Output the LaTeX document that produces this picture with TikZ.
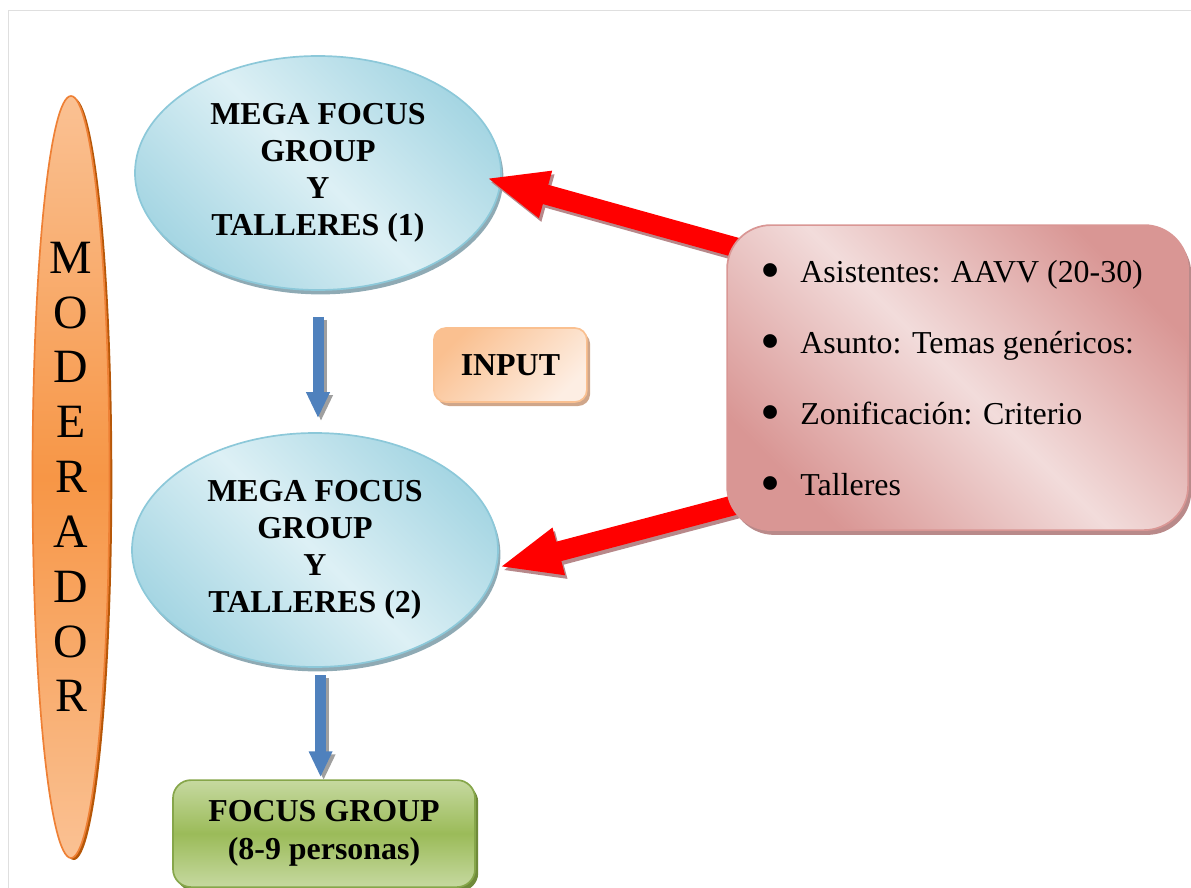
\documentclass[tikz,border=0pt]{standalone}
\usepackage{fontspec}
\setmainfont{Liberation Serif}
\usepackage{graphicx}
\usepackage{tikz}
\usetikzlibrary{arrows.meta,shapes.geometric,shadows}

\definecolor{bluL}{HTML}{DDF0F5}
\definecolor{bluD}{HTML}{A6D6E3}
\definecolor{bluB}{HTML}{8CC8D9}
\definecolor{bluS}{HTML}{8FAAB4}
\definecolor{orL}{HTML}{FAC193}
\definecolor{orD}{HTML}{F79646}
\definecolor{orB}{HTML}{EE8035}
\definecolor{orS}{HTML}{B65708}
\definecolor{inA}{HTML}{FAC090}
\definecolor{inB}{HTML}{FDEEE3}
\definecolor{inS}{HTML}{CFA68A}
\definecolor{pkL}{HTML}{F2DCDB}
\definecolor{pkD}{HTML}{D99694}
\definecolor{pkS}{HTML}{B98A8A}
\definecolor{grL}{HTML}{C6D9A0}
\definecolor{grD}{HTML}{9BBB59}
\definecolor{grB}{HTML}{86A64A}
\definecolor{grS}{HTML}{6F8A3A}
\definecolor{arB}{HTML}{4F81BD}
\definecolor{arR}{HTML}{FF0000}
\definecolor{arS}{HTML}{B7888A}

\newcommand{\vineta}{\smash{\raisebox{-0.22em}{\scalebox{1.8}{\textbullet}}}\hspace{0.5cm}}

\tikzset{
	moder/.style={ellipse, draw=orB, line width=1.2pt, top color=orL, bottom color=orL, middle color=orD,
		minimum width=1.925cm, minimum height=19.05cm, inner sep=0pt, align=center,
		font=\fontsize{34}{39}\selectfont,
		drop shadow={shadow xshift=0.07cm, shadow yshift=-0.05cm, fill=orS, opacity=1}},
	megaop/.style={ellipse, draw=bluB, line width=1.2pt, top color=bluD, bottom color=bluD, middle color=bluL,
		shading angle=-45, minimum width=9.15cm, minimum height=5.85cm, inner sep=0pt, align=center,
		font=\fontsize{22.7}{26.3}\selectfont\bfseries,
		drop shadow={shadow xshift=0.06cm, shadow yshift=-0.11cm, fill=bluS, opacity=1}},
	inbox/.style={rectangle, rounded corners=0.3cm, draw=inA, line width=1.2pt, top color=inA, bottom color=inB,
		shading angle=45, minimum width=3.825cm, minimum height=1.85cm, inner sep=0pt,
		font=\fontsize{22.7}{26.3}\selectfont\bfseries,
		drop shadow={shadow xshift=0.08cm, shadow yshift=-0.1cm, fill=inS, opacity=1}},
	focus/.style={rectangle, rounded corners=0.45cm, draw=grB, line width=1.2pt, top color=grL, bottom color=grL,
		middle color=grD, minimum width=7.55cm, minimum height=2.675cm, inner sep=0pt, align=center,
		font=\fontsize{22.7}{27}\selectfont\bfseries,
		drop shadow={shadow xshift=0.08cm, shadow yshift=-0.1cm, fill=grS, opacity=1}},
	temas/.style={rectangle, rounded corners=1.1cm, draw=pkD, line width=1.2pt, top color=pkD, bottom color=pkD,
		middle color=pkL, shading angle=-45, minimum width=11.525cm, minimum height=7.625cm, inner sep=0pt,
		align=left, font=\fontsize{22.7}{50.5}\selectfont,
		drop shadow={shadow xshift=0.08cm, shadow yshift=-0.12cm, fill=pkS, opacity=1}},
	flecha/.style={line width=0.275cm, arB, -{Triangle[width=0.55cm, length=0.65cm]}},
	flechasombra/.style={flecha, gray!75, transform canvas={shift={(0.075cm,-0.075cm)}}},
	flecharoja/.style={line width=0.5cm, arR, -{Triangle[width=1.1cm, length=1.55cm]}},
	flecharojasombra/.style={flecharoja, arS, transform canvas={shift={(0.06cm,-0.09cm)}}}
}

\begin{document}
\begin{tikzpicture}[scale=1]
		\useasboundingbox (0, 0) rectangle (29.775, -22.2);
		\draw[gray!25, line width=0.6pt] (0.2, -22.2) -- (0.2, -0.25) -- (29.775, -0.25);

		\node[moder] (moder) at (1.775, -11.925) {M\\O\\D\\E\\R\\A\\D\\O\\R};
		\node[megaop] (op1) at (7.95, -4.325) {MEGA FOCUS\\GROUP\\Y\\TALLERES (1)};
		\node[megaop] (op2) at (7.875, -13.75) {MEGA FOCUS\\GROUP\\Y\\TALLERES (2)};
		\node[inbox] (input) at (12.76, -9.125) {INPUT};
		\node[focus] (focus) at (8.1, -20.84) {FOCUS GROUP\\(8-9 personas)};

		\draw[flechasombra, shorten <=0.65cm, shorten >=0.35cm] (op1.south) -- (op1.south |- op2.north);
		\draw[flecha, shorten <=0.65cm, shorten >=0.35cm] (op1.south) -- (op1.south |- op2.north);
		\draw[flechasombra, shorten <=0.18cm, shorten >=0.05cm] ([xshift=0.14cm]op2.south) -- ([xshift=0.14cm]op2.south |- focus.north);
		\draw[flecha, shorten <=0.18cm, shorten >=0.05cm] ([xshift=0.14cm]op2.south) -- ([xshift=0.14cm]op2.south |- focus.north);

		\coordinate (in1) at (18.625, -6.25);
		\coordinate (in2) at (18.65, -12.55);
		\draw[flecharojasombra] (in1) -- ([shift={(-0.4, -0.12)}]op1.east);
		\draw[flecharoja] (in1) -- ([shift={(-0.4, -0.12)}]op1.east);
		\draw[flecharojasombra] (in2) -- ([yshift=-0.43cm]op2.east);
		\draw[flecharoja] (in2) -- ([yshift=-0.43cm]op2.east);

		\node[temas] (temas) at (23.94, -9.44) {\vineta Asistentes: AAVV (20-30)\rule{0.3cm}{0pt}\\
			\vineta Asunto: Temas genéricos:\\
			\vineta Zonificación: Criterio\\
			\vineta Talleres};
	\end{tikzpicture}
\end{document}
